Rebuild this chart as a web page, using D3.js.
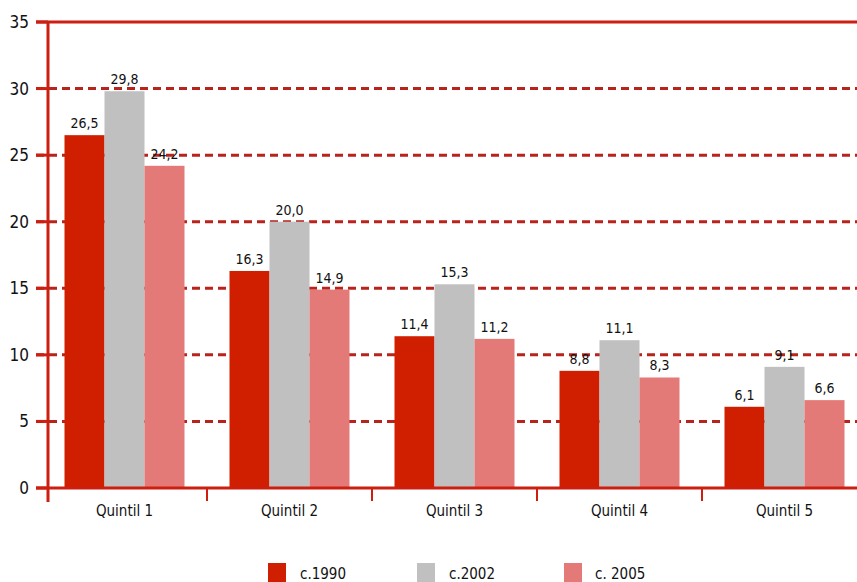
<!DOCTYPE html>
<html>
<head>
<meta charset="utf-8">
<script src="https://cdn.jsdelivr.net/npm/d3@7"></script>
<style>
  body { margin: 0; background: #fff; }
  svg text { font-family: "DejaVu Sans Condensed", "Liberation Sans Narrow", "Open Sans", sans-serif; fill: #111; }
</style>
</head>
<body>
<div id="chart"></div>
<script>
// data
const quintiles = ["Quintil 1", "Quintil 2", "Quintil 3", "Quintil 4", "Quintil 5"];
const seriesNames = ["c.1990", "c.2002", "c. 2005"];
const v1990 = [26.5, 16.3, 11.4, 8.8, 6.1];
const v2002 = [29.8, 20.0, 15.3, 11.1, 9.1];
const v2005 = [24.2, 14.9, 11.2, 8.3, 6.6];
const yTicks = [0, 5, 10, 15, 20, 25, 30, 35];
const colors = ["#d01e00", "#c0c0c0", "#e47a78"];

const width = 857, height = 582;
const axisRed = "#cc1f10", gridRed = "#b8231c";

const svg = d3.select("#chart").append("svg")
    .attr("width", width).attr("height", height);

let x = d3.scaleBand().domain(quintiles).range([42, 867]);
let xs = d3.scaleBand().domain(seriesNames).range([0, 120]);
let y = d3.scaleLinear().domain([0, 35]).range([488, 22]);

let series = [v1990, v2002, v2005];
let rows = [];
quintiles.forEach((q, i) => {
    seriesNames.forEach((s, j) => {
        rows.push({q: q, s: s, v: series[j][i], c: colors[j]});
    });
});

// gridlines (dashed), behind bars
svg.append("g").selectAll("line")
    .data(yTicks.filter(d => d > 0 && d < 35))
    .enter().append("line")
    .attr("x1", 36).attr("x2", width)
    .attr("y1", d => y(d)).attr("y2", d => y(d))
    .attr("stroke", gridRed).attr("stroke-width", 3)
    .attr("stroke-dasharray", "8,5");

// top solid line
svg.append("line")
    .attr("x1", 36).attr("x2", width)
    .attr("y1", y(35)).attr("y2", y(35))
    .attr("stroke", axisRed).attr("stroke-width", 3);

// bars
let groupOffset = (x.bandwidth() - 120) / 2;
svg.append("g").selectAll("rect")
    .data(rows).enter().append("rect")
    .attr("x", d => x(d.q) + groupOffset + xs(d.s))
    .attr("y", d => y(d.v))
    .attr("width", xs.bandwidth())
    .attr("height", d => y(0) - y(d.v))
    .attr("fill", d => d.c);

// value labels
svg.append("g").selectAll("text")
    .data(rows).enter().append("text")
    .attr("x", d => x(d.q) + groupOffset + xs(d.s) + xs.bandwidth() / 2)
    .attr("y", d => y(d.v) - 7)
    .attr("text-anchor", "middle")
    .style("font-size", "14px")
    .text(d => d3.format(".1f")(d.v).replace(".", ","));

// y axis
svg.append("line")
    .attr("x1", 48).attr("x2", 48)
    .attr("y1", y(35)).attr("y2", 502)
    .attr("stroke", axisRed).attr("stroke-width", 3);

svg.append("g").selectAll("line")
    .data(yTicks).enter().append("line")
    .attr("x1", 36).attr("x2", 48)
    .attr("y1", d => y(d)).attr("y2", d => y(d))
    .attr("stroke", axisRed).attr("stroke-width", 3);

svg.append("g").selectAll("text")
    .data(yTicks).enter().append("text")
    .attr("x", 29)
    .attr("y", d => y(d))
    .attr("dy", "0.35em")
    .attr("text-anchor", "end")
    .style("font-size", "17px")
    .text(d => d);

// x axis
svg.append("line")
    .attr("x1", 36).attr("x2", width)
    .attr("y1", y(0)).attr("y2", y(0))
    .attr("stroke", axisRed).attr("stroke-width", 3);

svg.append("g").selectAll("line")
    .data(quintiles.slice(1)).enter().append("line")
    .attr("x1", d => x(d)).attr("x2", d => x(d))
    .attr("y1", y(0)).attr("y2", 501)
    .attr("stroke", axisRed).attr("stroke-width", 2);

svg.append("g").selectAll("text")
    .data(quintiles).enter().append("text")
    .attr("x", d => x(d) + x.bandwidth() / 2)
    .attr("y", 516)
    .attr("text-anchor", "middle")
    .style("font-size", "15px")
    .text(d => d);

// legend
let legendX = [268, 417, 564];
let legend = svg.append("g").selectAll("g")
    .data(seriesNames).enter().append("g")
    .attr("transform", (d, i) => `translate(${legendX[i]}, 563)`);
legend.append("rect")
    .attr("width", 18).attr("height", 19)
    .attr("fill", (d, i) => colors[i]);
legend.append("text")
    .attr("x", (d, i) => i == 2 ? 31 : 32)
    .attr("y", 16)
    .style("font-size", "15px")
    .text(d => d);
</script>
</body>
</html>
